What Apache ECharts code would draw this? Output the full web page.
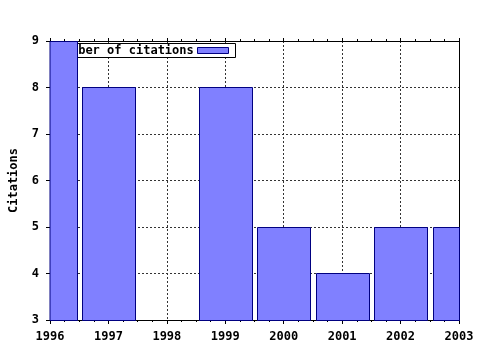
<!DOCTYPE html>
<html><head><meta charset="utf-8">
<script src="https://cdn.jsdelivr.net/npm/echarts@6/dist/echarts.min.js"></script>
<style>html,body{margin:0;padding:0;background:#fff}#c{width:480px;height:350px}</style>
</head><body><div id="c"></div>
<script>
const years = [1996, 1997, 1998, 1999, 2000, 2001, 2002, 2003];
const citations = [9, 8, 0, 8, 5, 4, 5, 5];
const seriesName = 'Number of citations';
const yAxisName = 'Citations';
const yMin = 3, yMax = 9;

const FONT = '"DejaVu Sans Mono", "Liberation Mono", monospace';
const txt = {fontFamily: FONT, fontWeight: 'bold', fontSize: 12, color: '#000'};
const dotted = {show: true, lineStyle: {color: '#333', type: [2, 2], width: 1}};
const BAR_W = 53;

const chart = echarts.init(document.getElementById('c'), null, {renderer: 'canvas'});
chart.setOption({
  animation: false,
  backgroundColor: '#fff',
  grid: {left: 50, right: 21, top: 41, bottom: 30, containLabel: false},
  xAxis: [{
    type: 'value', min: years[0], max: years[years.length - 1], interval: 1,
    axisLine: {show: true, onZero: false, lineStyle: {color: '#000', width: 1}},
    axisTick: {show: true, length: 4, lineStyle: {color: '#000'}},
    minorTick: {show: true, splitNumber: 4, length: 2, lineStyle: {color: '#000'}},
    axisLabel: Object.assign({margin: 11, formatter: v => String(v)}, txt),
    splitLine: dotted
  }, {
    type: 'value', position: 'top', min: years[0], max: years[years.length - 1], interval: 1,
    axisLine: {show: true, onZero: false, lineStyle: {color: '#000', width: 1}},
    axisTick: {show: true, length: 3, lineStyle: {color: '#000'}},
    minorTick: {show: true, splitNumber: 4, length: 2, lineStyle: {color: '#000'}},
    axisLabel: {show: false}, splitLine: {show: false}
  }],
  yAxis: [{
    type: 'value', min: yMin, max: yMax, interval: 1,
    name: yAxisName, nameLocation: 'middle', nameGap: 30,
    nameTextStyle: txt,
    axisLine: {show: true, onZero: false, lineStyle: {color: '#000', width: 1}},
    axisTick: {show: true, length: 4, lineStyle: {color: '#000'}},
    axisLabel: Object.assign({margin: 11}, txt),
    splitLine: dotted
  }, {
    type: 'value', position: 'right', min: yMin, max: yMax, interval: 1,
    axisLine: {show: true, onZero: false, lineStyle: {color: '#000', width: 1}},
    axisTick: {show: false}, axisLabel: {show: false}, splitLine: {show: false}
  }],
  graphic: [
    {type: 'rect', z: 1, shape: {x: 77.5, y: 43.5, width: 158, height: 14},
     style: {fill: '#fff', stroke: '#000', lineWidth: 1}},
    {type: 'text', z: 1, x: 56.5, y: 50.5,
     style: {text: seriesName, font: 'bold 12px ' + FONT, fill: '#000', textVerticalAlign: 'middle', textAlign: 'left'}},
    {type: 'rect', z: 1, shape: {x: 197.5, y: 47.5, width: 31, height: 6},
     style: {fill: '#8080ff', stroke: '#000080', lineWidth: 1}}
  ],
  series: [{
    name: seriesName, type: 'custom', z: 5,
    encode: {x: 0, y: 1},
    data: years.map((y, i) => [y, citations[i]]),
    renderItem: function (params, api) {
      const x = api.value(0), v = api.value(1);
      if (v <= yMin) return null;
      const top = api.coord([x, v]);
      const base = api.coord([x, yMin]);
      const ty = Math.floor(top[1]);
      const rect = echarts.graphic.clipRectByRect({
        x: Math.round(top[0] - BAR_W / 2) + 0.5, y: ty + 0.5,
        width: BAR_W, height: Math.floor(base[1]) - ty
      }, {
        x: params.coordSys.x, y: params.coordSys.y,
        width: params.coordSys.width + 0.5, height: params.coordSys.height + 0.5
      });
      if (!rect) return null;
      return {
        type: 'rect', shape: rect,
        style: {fill: '#8080ff', stroke: '#000080', lineWidth: 1}
      };
    }
  }]
});
</script>
</body></html>
